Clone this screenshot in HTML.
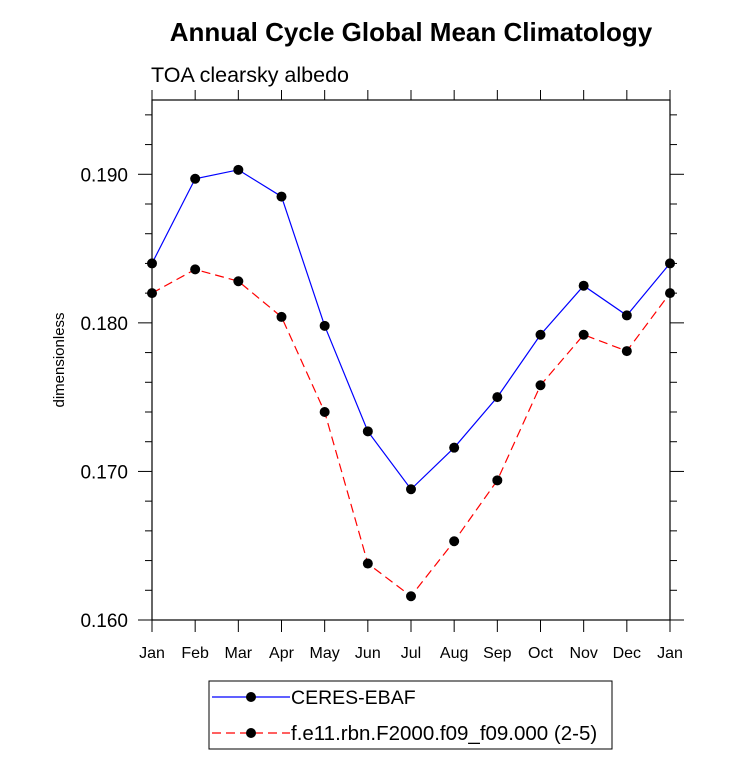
<!DOCTYPE html>
<html><head><meta charset="utf-8"><style>body{margin:0;background:#fff}svg{display:block;font-family:"Liberation Sans",sans-serif}</style></head>
<body>
<svg id="chart" width="733" height="770" viewBox="0 0 733 770">
<text x="411" y="41" text-anchor="middle" font-size="26" font-weight="bold">Annual Cycle Global Mean Climatology</text>
<text x="151" y="82" font-size="21.5">TOA clearsky albedo</text>
<text transform="translate(64,360) rotate(-90)" text-anchor="middle" font-size="15">dimensionless</text>
<g id="axes"></g>
<g id="series"></g>
<g>
<rect x="209" y="681" width="403" height="68" fill="none" stroke="#000" stroke-width="1"/>
<line x1="212" y1="697" x2="290" y2="697" stroke="#0000ff" stroke-width="1.2"/>
<circle cx="251" cy="697" r="5" fill="#000"/>
<text x="291" y="704" font-size="19.5">CERES-EBAF</text>
<line x1="212" y1="733" x2="290" y2="733" stroke="#ff0000" stroke-width="1.2" stroke-dasharray="9,5"/>
<circle cx="251" cy="733" r="5" fill="#000"/>
<text x="291" y="740" font-size="20.5">f.e11.rbn.F2000.f09_f09.000 (2-5)</text>
</g>
</svg>
<script>
const months=["Jan","Feb","Mar","Apr","May","Jun","Jul","Aug","Sep","Oct","Nov","Dec","Jan"];
const ceres=[0.1840,0.1897,0.1903,0.1885,0.1798,0.1727,0.1688,0.1716,0.1750,0.1792,0.1825,0.1805,0.1840];
const model=[0.1820,0.1836,0.1828,0.1804,0.1740,0.1638,0.1616,0.1653,0.1694,0.1758,0.1792,0.1781,0.1820];
const yTicks=["0.160","0.170","0.180","0.190"];
const L=152,R=670,T=100,B=620,Y0=0.160,Y1=0.195;
const NS="http://www.w3.org/2000/svg";
const x=i=>L+(R-L)*i/(months.length-1);
const y=v=>B-(B-T)*(v-Y0)/(Y1-Y0);
function mk(t,a,p){const e=document.createElementNS(NS,t);for(const k in a)e.setAttribute(k,a[k]);p.appendChild(e);return e;}
const ax=document.getElementById('axes');
const box=mk('rect',{x:L,y:T,width:R-L,height:B-T,fill:'none',stroke:'#000','stroke-width':1.2},ax);


for(let k=0;k<=17;k++){const v=Y0+k*0.002;if(v>Y1+1e-9)break;const yy=y(v);const major=k%5===0;const len=major?14:7;
mk('line',{x1:L-len,y1:yy,x2:L,y2:yy,stroke:'#000'},ax);mk('line',{x1:R,y1:yy,x2:R+len,y2:yy,stroke:'#000'},ax);}
yTicks.forEach(s=>{const t=mk('text',{x:128,y:y(parseFloat(s))+7,'text-anchor':'end','font-size':19},ax);t.textContent=s;

});
months.forEach((m,i)=>{mk('line',{x1:x(i),y1:B,x2:x(i),y2:B+12,stroke:'#000'},ax);mk('line',{x1:x(i),y1:T-10,x2:x(i),y2:T,stroke:'#000'},ax);
const t=mk('text',{x:x(i),y:658,'text-anchor':'middle','font-size':16},ax);t.textContent=m;

});
const sg=document.getElementById('series');
function draw(vals,color,dash,name){const p=mk('polyline',{points:vals.map((v,i)=>x(i)+','+y(v)).join(' '),fill:'none',stroke:color,'stroke-width':1.2,'stroke-dasharray':dash},sg);


vals.forEach((v,i)=>{const c=mk('circle',{cx:x(i),cy:y(v),r:5,fill:'#000'},sg);

});}
draw(ceres,'#0000ff','none','ceres');
draw(model,'#ff0000','9,5','model');
</script>
</body></html>
